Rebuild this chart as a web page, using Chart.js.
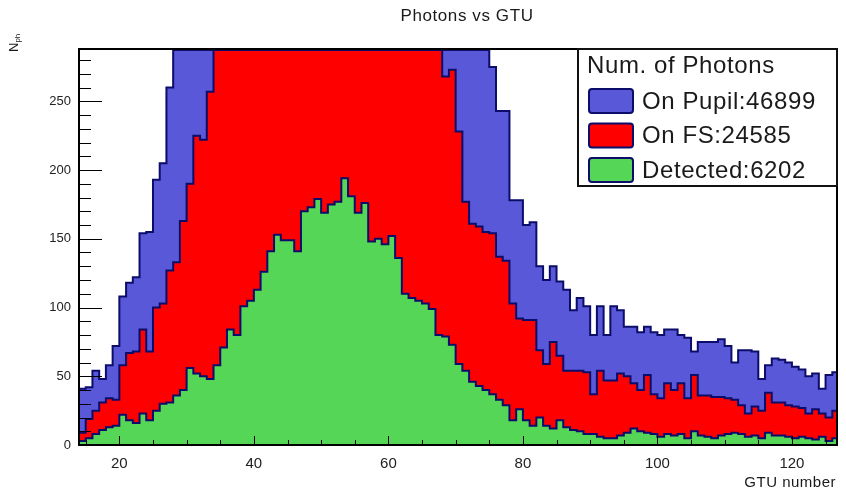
<!DOCTYPE html>
<html>
<head>
<meta charset="utf-8">
<script src="https://cdn.jsdelivr.net/npm/chart.js@4.4.1/dist/chart.umd.min.js"></script>
<style>
  body { margin: 0; background: #fff; }
  #wrap { position: relative; width: 846px; height: 492px; }
</style>
</head>
<body>
<div id="wrap"><canvas id="gtu" width="846" height="492"></canvas></div>
<script>
// histogram bins are 1 GTU wide, first bin starts at GTU 14
var firstBin = 14;

// photons on pupil, bins 14..126 (28-74 are off the top of the plot)
var onPupil = [41, 42, 54, 48, 58, 72, 108, 118, 122, 154, 155, 193, 205, 260,
  300, 340, 400, 450, 470, 520,
  550, 590, 650, 680, 770, 810, 870, 940, 1050, 1130, 1130, 1150, 1110, 1260, 1300, 1340, 1300,
  1320, 1340, 1430, 1360, 1300, 1320, 1170, 1150, 1110, 1130, 1040, 900, 850, 810, 750, 720, 600,
  540, 540, 460, 380, 340, 320, 300,
  275, 243, 243, 178, 178, 160, 162, 130, 120, 130, 119, 113, 98, 107, 101,
  80, 101, 80, 101, 98, 86, 86, 82, 86, 82, 80, 84, 84, 80, 78, 68, 75, 75, 75, 77,
  72, 60, 69, 69, 68, 48, 58, 63, 62, 60, 57, 55, 50, 52, 41, 51, 53];

// photons on focal surface
var onFS = [9, 19, 25, 31, 34, 33, 58, 67, 68, 84, 68, 100, 103, 127, 133, 163, 190, 225, 222, 257,
  290, 310, 345, 360, 410, 430, 460, 500, 560, 600, 600, 610, 590, 670, 690, 710, 690,
  700, 710, 760, 720, 690, 700, 620, 610, 590, 600, 550, 480, 450, 430, 400, 380, 320,
  268, 273, 228, 177, 161, 159, 155, 154, 137, 134, 103, 92, 91, 91, 69, 59, 75, 65, 54, 54,
  54, 53, 37, 54, 47, 47, 52, 50, 45, 40, 51, 37,
  34, 45, 40, 45, 34, 51, 36, 36, 35, 35, 34, 33, 29, 23, 28, 25, 38, 31, 31, 29,
  28, 27, 23, 26, 23, 20, 25];

// detected photons
var detected = [3, 5, 8, 11, 13, 14, 22, 18, 16, 23, 18, 25, 30, 31, 36, 40,
  56, 52, 50, 48, 58, 71, 84, 80, 101, 105, 113, 126, 141, 153, 149, 149, 141, 170, 173, 179, 169,
  175, 177, 194, 181, 169, 176, 148, 150, 146, 152, 136, 110, 107, 105, 103, 99, 80, 79, 73, 59,
  54, 46, 43, 40, 37, 33, 29, 18, 26, 18, 14, 20, 14, 12, 18, 13, 11, 10, 8,
  8, 6, 5, 5, 7, 9, 12, 10, 9, 8, 6, 8, 7, 8, 5, 10, 7, 6, 5, 7,
  8, 9, 8, 6, 7, 5, 9, 7, 7, 6, 5, 6, 5, 4, 6, 3, 5];

var seriesNames = ['On Pupil:46899', 'On FS:24585', 'Detected:6202'];
var xTickLabels = [20, 40, 60, 80, 100, 120];
var yTickLabels = [0, 50, 100, 150, 200, 250];

var FONT = '"Liberation Sans", Arial, Helvetica, sans-serif';
var LINE = '#0c0c6a';
var fills = ['#5858d8', '#ff0000', '#56d656'];

// bin contents -> left-edge points for a step line
function steps(vals) {
  var pts = [];
  for (var i = 0; i < vals.length; i++) pts.push({x: firstBin + i, y: vals[i]});
  pts.push({x: firstBin + vals.length, y: vals[vals.length - 1]});
  return pts;
}

function histSet(label, vals, color, order) {
  return {
    label: label,
    data: steps(vals),
    stepped: true,
    fill: 'origin',
    backgroundColor: color,
    borderColor: LINE,
    borderWidth: 2,
    pointRadius: 0,
    order: order
  };
}

var decor = {
  id: 'decor',
  afterDatasetsDraw: function (chart) {
    var ctx = chart.ctx, a = chart.chartArea;
    var xs = chart.scales.x, ys = chart.scales.y;
    ctx.save();
    ctx.strokeStyle = '#000';
    ctx.lineWidth = 1;
    ctx.beginPath();
    // y ticks, inside the frame
    for (var v = 0; v <= 280; v += 10) {
      var py = Math.round(ys.getPixelForValue(v)) + 0.5;
      var len = (yTickLabels.indexOf(v) >= 0) ? 23 : 12;
      ctx.moveTo(a.left, py);
      ctx.lineTo(a.left + len, py);
    }
    // x ticks
    for (var g = 15; g <= 125; g += 5) {
      var px = Math.round(xs.getPixelForValue(g)) + 0.5;
      var l2 = (xTickLabels.indexOf(g) >= 0) ? 9 : 5;
      ctx.moveTo(px, a.bottom);
      ctx.lineTo(px, a.bottom - l2);
    }
    ctx.stroke();

    // clipped histogram outline shows along the top edge
    ctx.strokeStyle = LINE;
    ctx.lineWidth = 2;
    ctx.beginPath();
    ctx.moveTo(xs.getPixelForValue(28), a.top + 1);
    ctx.lineTo(xs.getPixelForValue(75), a.top + 1);
    ctx.stroke();

    // frame
    ctx.strokeStyle = '#000';
    ctx.lineWidth = 2;
    ctx.strokeRect(a.left, a.top, a.right - a.left, a.bottom - a.top);

    // legend box
    var lx = 578, ly = a.top, lw = a.right - 578, lh = 137;
    ctx.fillStyle = '#fff';
    ctx.fillRect(lx, ly, lw, lh);
    ctx.lineWidth = 2;
    ctx.strokeStyle = '#111';
    ctx.strokeRect(lx, ly, lw, lh);
    ctx.fillStyle = '#1a1a1a';
    ctx.font = '24px ' + FONT;
    ctx.letterSpacing = '0.6px';
    ctx.textBaseline = 'middle';
    ctx.textAlign = 'left';
    ctx.fillText('Num. of Photons', 587, ly + 17);
    for (var i = 0; i < seriesNames.length; i++) {
      var cy = ly + 52 + i * 34.5;
      ctx.fillStyle = fills[i];
      ctx.strokeStyle = LINE;
      ctx.lineWidth = 2;
      ctx.beginPath();
      ctx.roundRect(589, cy - 12, 44, 24, 3);
      ctx.fill();
      ctx.stroke();
      ctx.fillStyle = '#1a1a1a';
      ctx.fillText(seriesNames[i], 642, cy + 1);
    }
    ctx.restore();
  },
  afterDraw: function (chart) {
    var ctx = chart.ctx;
    ctx.save();
    ctx.fillStyle = '#1a1a1a';
    ctx.textBaseline = 'middle';
    ctx.textAlign = 'center';
    ctx.font = '17px ' + FONT;
    ctx.letterSpacing = '0.6px';
    ctx.fillText('Photons vs GTU', 467, 16);

    ctx.textAlign = 'right';
    ctx.font = '15px ' + FONT;
    ctx.letterSpacing = '0.5px';
    ctx.fillText('GTU number', 836, 483);

    // y axis title N_ph, rotated
    ctx.translate(14, 52);
    ctx.rotate(-Math.PI / 2);
    ctx.textAlign = 'left';
    ctx.letterSpacing = '0px';
    ctx.font = '13px ' + FONT;
    ctx.fillText('N', 0, 0);
    var w = ctx.measureText('N').width;
    ctx.font = '8px ' + FONT;
    ctx.fillText('ph', w, 4);
    ctx.restore();
  }
};

var chart = new Chart(document.getElementById('gtu'), {
  type: 'line',
  data: {
    datasets: [
      histSet(seriesNames[0], onPupil, fills[0], 3),
      histSet(seriesNames[1], onFS, fills[1], 2),
      histSet(seriesNames[2], detected, fills[2], 1)
    ]
  },
  options: {
    responsive: false,
    animation: false,
    devicePixelRatio: 1,
    layout: { padding: { top: 49, right: 9, left: 0, bottom: 0 } },
    plugins: {
      legend: { display: false },
      tooltip: { enabled: false }
    },
    elements: { line: { tension: 0 } },
    scales: {
      x: {
        type: 'linear',
        min: 14,
        max: 126.7,
        grid: { display: false, drawTicks: false },
        border: { display: false },
        afterBuildTicks: function (s) { s.ticks = xTickLabels.map(function (v) { return {value: v}; }); },
        afterFit: function (s) { s.height = 47; },
        ticks: { color: '#222', font: { family: FONT, size: 15 }, padding: 10, maxRotation: 0 }
      },
      y: {
        min: 0,
        max: 288,
        grid: { display: false, drawTicks: false },
        border: { display: false },
        afterBuildTicks: function (s) { s.ticks = yTickLabels.map(function (v) { return {value: v}; }); },
        afterFit: function (s) { s.width = 79; },
        ticks: { color: '#222', font: { family: FONT, size: 13 }, padding: 8 }
      }
    }
  },
  plugins: [decor]
});
</script>
</body>
</html>
